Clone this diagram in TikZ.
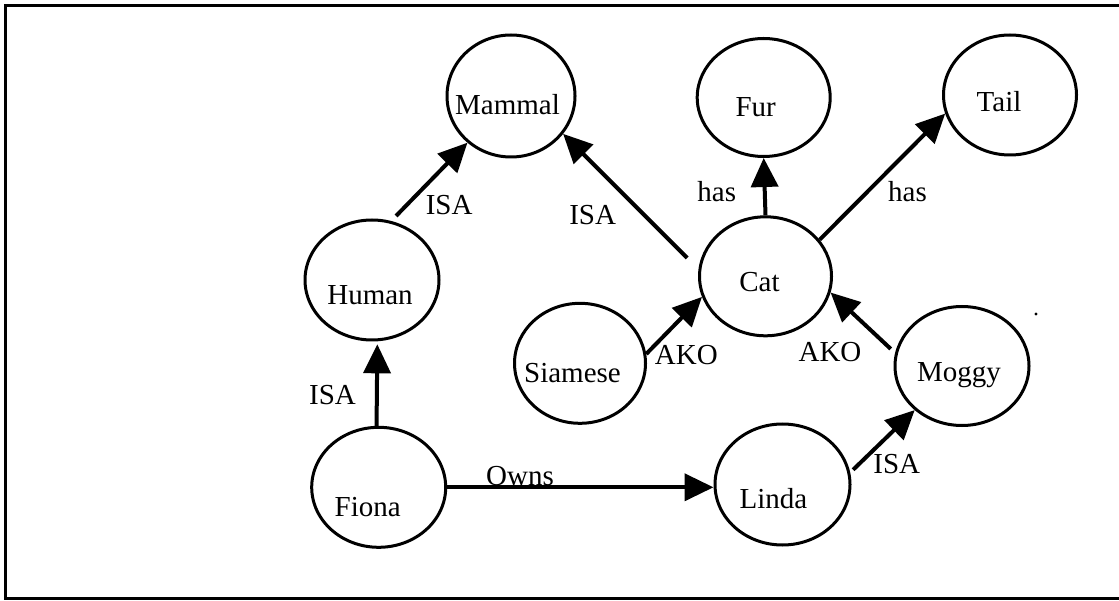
\documentclass[tikz,border=0pt]{standalone}
\usepackage{fontspec}
\setmainfont{Liberation Serif}
\usetikzlibrary{shapes.geometric,arrows.meta}
\begin{document}
\begin{tikzpicture}[x=1pt,y=-1pt,
  concept/.style={draw,ellipse,line width=3pt,inner sep=0pt},
  link/.style={line width=4pt,-{Triangle[length=29pt,width=27pt]}},
  lbl/.style={anchor=base,inner sep=0pt,font=\fontsize{29}{34}\selectfont},
]
\useasboundingbox (0,0) rectangle (1119,601);
\fill[white] (0,0) rectangle (1119,601);
% open frame
\draw[line width=3pt] (1130,5.5) -- (5.5,5.5) -- (5.5,598.5) -- (1130,598.5);

% concepts
\node[concept,minimum width=128pt,minimum height=122pt,
  label={[lbl,xshift=-3.5pt,yshift=-9pt]center:Mammal}] (mammal) at (511,96) {};
\node[concept,minimum width=133pt,minimum height=118pt,
  label={[lbl,xshift=-8pt,yshift=-10pt]center:Fur}] (fur) at (763.7,97.5) {};
\node[concept,minimum width=133pt,minimum height=120pt,
  label={[lbl,xshift=-11pt,yshift=-6.7pt]center:Tail}] (tail) at (1010,95) {};
\node[concept,minimum width=134pt,minimum height=120pt,
  label={[lbl,xshift=-2pt,yshift=-15pt]center:Human}] (human) at (372,280) {};
\node[concept,minimum width=132pt,minimum height=119pt,
  label={[lbl,xshift=-6pt,yshift=-5.4pt]center:Cat}] (cat) at (765.5,276.3) {};
\node[concept,minimum width=131pt,minimum height=120pt,
  label={[lbl,xshift=-7.5pt,yshift=-10pt]center:Siamese}] (siamese) at (580,363.3) {};
\node[concept,minimum width=134pt,minimum height=119pt,
  label={[lbl,xshift=-3pt,yshift=-9pt]center:Moggy}] (moggy) at (962,366) {};
\node[concept,minimum width=134pt,minimum height=120pt,
  label={[lbl,xshift=-11pt,yshift=-19.4pt]center:Fiona}] (fiona) at (378.7,487.3) {};
\node[concept,minimum width=135pt,minimum height=121pt,
  label={[lbl,xshift=-9pt,yshift=-13.8pt]center:Linda}] (linda) at (782.5,484.5) {};

% relations
\draw[link,shorten >=3pt] (fiona.92) -- (human.275);
\draw[link,shorten <=7pt] (human.72) -- (mammal.227);
\draw[link,shorten <=16pt] (cat.174) -- (mammal.-36);
\draw[link] (cat.north) -- (fur.south);
\draw[link] (cat.34) -- (tail.196);
\draw[link] (siamese.8) -- (cat.198);
\draw[link,shorten <=6pt] (moggy.169) -- (cat.-14);
\draw[link] (fiona.east) -- (fiona.east -| linda.west);
\draw[link,shorten <=4pt] (linda.10) -- (moggy.223);

% relation names
\node[lbl] (isaHM) at (449.2,215) {ISA};
\node[lbl] (isaCM) at (592.7,225) {ISA};
\node[lbl] (isaFH) at (332.5,405) {ISA};
\node[lbl] (owns) at (520,485) {Owns};
\node[lbl] (akoS) at (686.3,365) {AKO};
\node[lbl] (akoM) at (830,361.7) {AKO};
\node[lbl] (isaLM) at (896.7,473.3) {ISA};
\node[lbl] (hasF) at (716.7,201.7) {has};
\node[lbl] (hasT) at (907.5,201.7) {has};

% stray speck
\fill (1036,314) circle (1.6);
\end{tikzpicture}
\end{document}
